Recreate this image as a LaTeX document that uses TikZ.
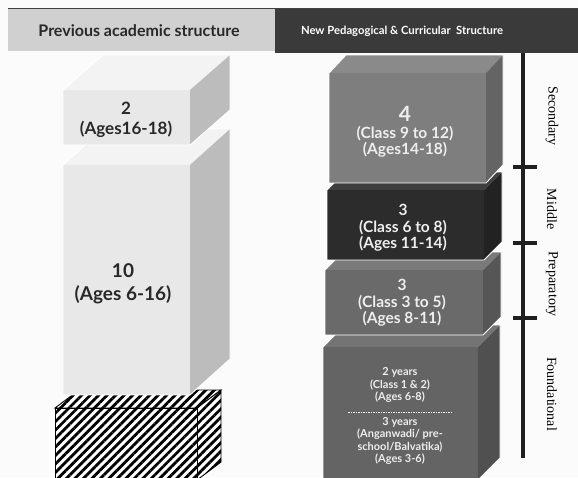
\documentclass[tikz,border=0pt]{standalone}
\usepackage{fontspec}
\setmainfont{Lato}
\newfontfamily\sidefont{Liberation Serif}
\usepackage{tikz}
\usetikzlibrary{patterns.meta}
\definecolor{pagebg}{RGB}{251,251,251}
\definecolor{hdrlight}{RGB}{208,208,208}
\definecolor{hdrdark}{RGB}{58,58,58}
\definecolor{inkdark}{RGB}{40,40,40}
\definecolor{inklight}{RGB}{238,238,238}
\definecolor{palefront}{RGB}{232,232,232}
\definecolor{paletop}{RGB}{243,243,243}
\definecolor{paleside}{RGB}{188,188,188}
\definecolor{secfront}{RGB}{126,126,126}
\definecolor{sectop}{RGB}{138,138,138}
\definecolor{secside}{RGB}{100,100,100}
\definecolor{midfront}{RGB}{44,44,44}
\definecolor{midtop}{RGB}{62,62,62}
\definecolor{midside}{RGB}{34,34,34}
\definecolor{prepfront}{RGB}{106,106,106}
\definecolor{preptop}{RGB}{122,122,122}
\definecolor{prepside}{RGB}{86,86,86}
\definecolor{fndfront}{RGB}{100,100,100}
\definecolor{fndtop}{RGB}{116,116,116}
\definecolor{fndside}{RGB}{80,80,80}
\tikzset{
  boxedge/.style={draw=white, line width=0.9pt, line join=round},
  hatchbox/.style={draw=black, line width=0.9pt, preaction={fill=white},
    pattern={Lines[angle=45, distance=6pt, line width=2.8pt]}},
  paletext/.style={align=center, text=inkdark, font=\bfseries\fontsize{19}{23}\selectfont},
  darktext/.style={align=center, text=inklight, font=\bfseries\fontsize{15.5}{16.5}\selectfont},
  smalltext/.style={align=center, text=inklight, font=\bfseries\fontsize{11}{12.4}\selectfont},
  stagelabel/.style={rotate=-90, text=black, font=\sidefont\fontsize{14}{16}\selectfont},
  axis/.style={line width=3.5pt, color=black!88},
  tick/.style={line width=4pt, color=black!88}
}
% x y w h dx dy front top side
\newcommand{\drawblock}[9]{%
  \fill[#8] (#1,#2) -- ++(#5,-#6) -- ++(#3,0) -- ++(-#5,#6) -- cycle;
  \fill[#9] ({#1+#3},#2) -- ++(#5,-#6) -- ++(0,#4) -- ++(-#5,#6) -- cycle;
  \fill[#7] (#1,#2) rectangle ++(#3,#4);
  \draw[boxedge] (#1,{#2+#4}) -- (#1,#2) -- ++(#5,-#6) -- ++(#3,0) -- ++(0,#4) -- ++(-#5,#6) -- cycle;
}

\begin{document}
\begin{tikzpicture}[x=1pt, y=-1pt]
  \useasboundingbox (0,0) rectangle (578,477);
  \fill[pagebg] (0,0) rectangle (578,477);

  % Headers
  \fill[hdrlight] (8,8) rectangle (275,51);
  \fill[hdrdark] (275,8) rectangle (578,53);
  \draw[line width=0.8pt, black!75] (8,8) -- (578,8);
  \node[text=inkdark, font=\bfseries\fontsize{16}{18}\selectfont] (oldhdr) at (139,31) {Previous academic structure};
  \node[text=white, font=\bfseries\fontsize{11.3}{13}\selectfont] (newhdr) at (402,31) {New Pedagogical \& Curricular\ \ Structure};

  % Previous structure
  \filldraw[hatchbox] (55,408) -- ++(24,-18) -- ++(142,0) -- ++(-24,18) -- cycle;
  \filldraw[hatchbox] (197,408) -- ++(24,-18) -- ++(0,72) -- ++(-24,18) -- cycle;
  \filldraw[hatchbox] (55,408) rectangle ++(142,72);
  \drawblock{63}{165}{127}{230}{40}{36}{palefront}{paletop}{paleside}
  \drawblock{63}{90}{127}{55}{40}{35}{palefront}{paletop}{paleside}
  \node[paletext, font=\bfseries\fontsize{17}{20}\selectfont] (two) at (126,120) {2\\(Ages16-18)};
  \node[paletext] (ten) at (123,284) {10\\(Ages 6-16)};

  % New structure
  \drawblock{323}{347}{155}{133}{22}{22}{fndfront}{fndtop}{fndside}
  \drawblock{325}{270}{158}{65}{18}{18}{prepfront}{preptop}{prepside}
  \drawblock{327}{190}{157}{70}{18}{18}{midfront}{midtop}{midside}
  \drawblock{329}{73}{157}{110}{17}{18}{secfront}{sectop}{secside}
  \node[darktext] (sec) at (405,132) {{\fontsize{21}{21}\selectfont 4}\\(Class 9 to 12)\\(Ages14-18)};
  \node[darktext] (mid) at (403,228) {3\\(Class 6 to 8)\\(Ages 11-14)};
  \node[darktext] (prep) at (402,303) {3\\(Class 3 to 5)\\(Ages 8-11)};
  \node[smalltext] (fndtwo) at (400,385) {2 years\\(Class 1 \& 2)\\(Ages 6-8)};
  \node[smalltext] (fndthree) at (400,441) {3 years\\(Anganwadi/ pre-\\school/Balvatika)\\(Ages 3-6)};
  \draw[inklight, dash pattern=on 1.5pt off 1pt, line width=0.8pt] (348,412) -- (452,412);

  % Stage axis
  \coordinate (axtop) at (523,53);
  \coordinate (axbot) at (523,458);
  \draw[axis] (axtop) -- (axbot);
  \foreach \ty in {167,243,318}
    \draw[tick] (513,\ty) -- (537,\ty);
  \node[stagelabel] (secl) at (552,116) {Secondary};
  \node[stagelabel] (midl) at (552,209) {Middle};
  \node[stagelabel] (prepl) at (552,284) {Preparatory};
  \node[stagelabel] (fndl) at (552,394) {Foundational};
\end{tikzpicture}
\end{document}
